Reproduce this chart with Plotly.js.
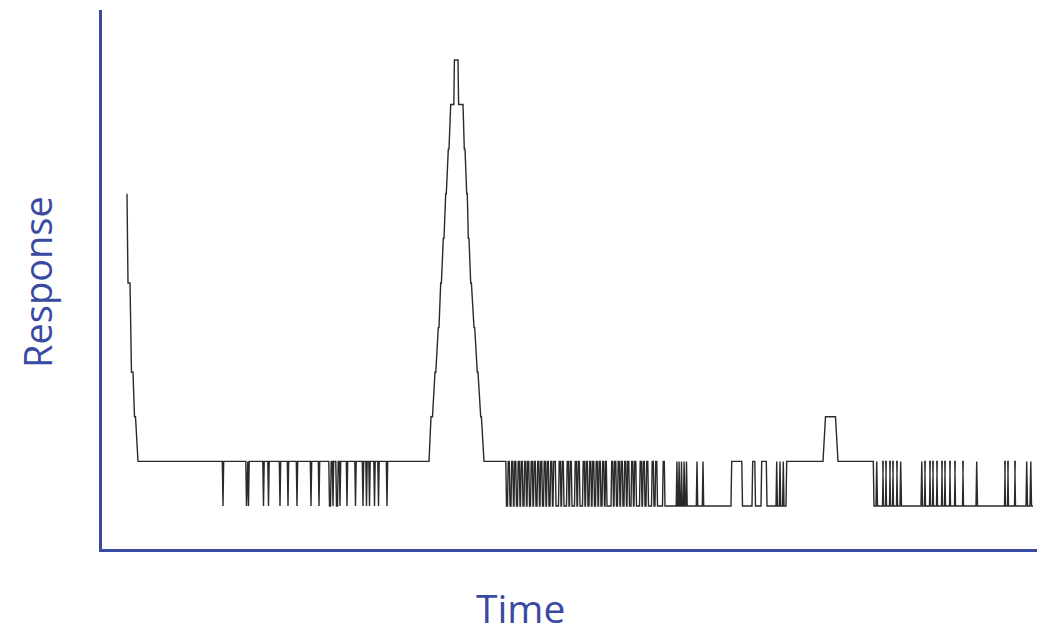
<!DOCTYPE html>
<html>
<head>
<meta charset="utf-8">
<script src="https://cdn.plot.ly/plotly-3.0.1.min.js"></script>
<style>html,body{margin:0;padding:0;background:#fff;}#chart{width:1053px;height:637px;}</style>
</head>
<body>
<div id="chart"></div>
<script>
// Response levels (detector counts); time in arbitrary units
const startTime = [127, 128, 130, 131.5, 133, 134.5, 135.5, 138];
const startResp = [7, 5, 5, 3, 3, 2, 2, 1];

// Noise dips to the lower level (start/end of each dip)
const dip1Start = [223, 246.5, 248.5, 263.5, 268.5, 280, 288, 297, 311, 319, 329.5, 333, 336.5, 340, 347, 355.5, 363, 366.5, 369.5, 374.5, 378.5, 387];
const dip1End   = [223, 246.5, 248.5, 263.5, 268.5, 280, 288, 297, 311, 319, 330.5, 333, 337.5, 340, 347, 355.5, 363, 366.5, 369.5, 374.5, 378.5, 387];

// Main peak
const peakTime = [429, 431, 432.5, 435, 435.8, 438.3, 439, 440.7, 441.4, 443.3, 444, 445.7, 446.3, 448.3, 449, 450.7, 453.8, 454.4, 458, 458.6, 463, 464.3, 465, 466.7, 467.3, 468.3, 469, 470.7, 471.4, 474, 474.7, 477.3, 478, 480.7, 481.4, 484];
const peakResp = [1, 2, 2, 3, 3, 4, 4, 5, 5, 6, 6, 7, 7, 8, 8, 9, 9, 10, 10, 9, 9, 8, 8, 7, 7, 6, 6, 5, 5, 4, 4, 3, 3, 2, 2, 1];

const dip2Start = [506.5, 510, 513.5, 516.5, 520, 523, 526.5, 529.5, 533, 536, 539.5, 542.5, 546, 549, 552.5, 556, 561, 564, 569, 572, 577, 580, 585, 588, 591.5, 594.5, 598, 601, 604.5, 607, 613.5, 616.5, 620, 623, 626.5, 629.5, 633.5, 636.5, 642, 645, 648.5, 654, 657.5, 665, 677.6, 679.8, 682.2, 684.8, 687.2, 697.7, 703.7, 742.5, 755.5, 767, 777.4, 780.7, 784];
const dip2End   = [507.5, 511, 514, 517.5, 520.5, 524, 527, 530.5, 533.5, 537, 540, 543.5, 546.5, 550, 553, 558.5, 561.5, 566.5, 569.5, 574.5, 577.5, 582.5, 585.5, 589, 592, 595.5, 598.5, 602, 605, 611, 614, 617.5, 620.5, 624, 627, 631, 634, 639.5, 642.5, 646, 651.5, 655, 662.5, 676.2, 678.4, 680.8, 683.4, 685.8, 696.3, 702.3, 731, 752, 761, 776, 779.3, 782.6, 786];

// Small peak
const smallPeakTime = [823, 825.5, 835.5, 838];
const smallPeakResp = [1, 2, 2, 1];

const dip3Start = [874, 877.5, 883.5, 886.5, 890.5, 893.5, 897.5, 901.5, 922.5, 925.5, 930.5, 933.5, 937.5, 942.5, 945.5, 950.5, 955.5, 963.5, 977.5, 1005.5, 1008.5, 1015.5, 1027.5, 1031.5];
const dip3End   = [876, 882.5, 885.5, 889.5, 892.5, 896.5, 900, 921, 924.5, 929.5, 932.5, 936.5, 941.5, 944.5, 949.5, 954.5, 962.5, 976, 1004.5, 1007.5, 1014.5, 1026, 1030, 1033];

const baseLevel = 1, lowLevel = 0;
const RAMP = 0.7; // drawing width of a level transition

const T = [], R = [];
function addPts(ts, rs) { for (let i = 0; i < ts.length; i++) { T.push(ts[i]); R.push(rs[i]); } }
function addDips(s, e, endsLow) {
  for (let i = 0; i < s.length; i++) {
    T.push(s[i] - RAMP); R.push(baseLevel);
    T.push(s[i]); R.push(lowLevel);
    if (e[i] !== s[i]) { T.push(e[i]); R.push(lowLevel); }
    if (!(endsLow && i === s.length - 1)) { T.push(e[i] + RAMP); R.push(baseLevel); }
  }
}
addPts(startTime, startResp);
addDips(dip1Start, dip1End, false);
addPts(peakTime, peakResp);
addDips(dip2Start, dip2End, false);
addPts(smallPeakTime, smallPeakResp);
addDips(dip3Start, dip3End, true);

const axisColor = '#3a4aa2';
const W = 1053, H = 637, ML = 102, MR = 16, MT = 10, MB = 88;
const pw = W - ML - MR, ph = H - MT - MB;

Plotly.newPlot('chart', [{
  x: T, y: R, type: 'scatter', mode: 'lines',
  line: {color: '#2a2a2a', width: 1.4},
  hoverinfo: 'skip', showlegend: false
}], {
  width: W, height: H,
  margin: {l: ML, r: MR, t: MT, b: MB, pad: 0},
  paper_bgcolor: '#ffffff', plot_bgcolor: '#ffffff',
  xaxis: {range: [102, 1037], showline: true, linecolor: axisColor, linewidth: 3, showgrid: false, zeroline: false, showticklabels: false, ticks: ''},
  yaxis: {range: [-0.964, 11.12], showline: true, linecolor: axisColor, linewidth: 3, showgrid: false, zeroline: false, showticklabels: false, ticks: ''},
  annotations: [
    {text: 'Time', xref: 'paper', yref: 'paper', x: (520 - ML) / pw, y: -(607 - (H - MB)) / ph, xanchor: 'center', yanchor: 'middle', showarrow: false, font: {family: 'Open Sans, sans-serif', size: 39, color: axisColor}},
    {text: 'Response', xref: 'paper', yref: 'paper', x: (37 - ML) / pw, y: (H - MB - 282) / ph, xanchor: 'center', yanchor: 'middle', textangle: -90, showarrow: false, font: {family: 'Open Sans, sans-serif', size: 38, color: axisColor}}
  ]
}, {staticPlot: true, displayModeBar: false});
</script>
</body>
</html>
